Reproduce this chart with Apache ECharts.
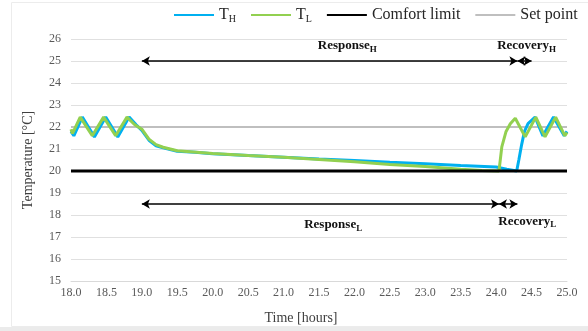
<!DOCTYPE html>
<html>
<head>
<meta charset="utf-8">
<script src="https://cdn.jsdelivr.net/npm/echarts@6/dist/echarts.min.js"></script>
<style>
  html, body { margin: 0; padding: 0; background: #fff; }
  #chart { width: 588px; height: 331px; }
</style>
</head>
<body>
<div id="chart"></div>
<script>
// T_H (blue)
const timeH = [18.00, 18.04, 18.16, 18.33, 18.49, 18.66, 18.82, 18.92, 19.00, 19.10, 19.20, 19.30, 19.50, 19.75,
  20.0, 20.5, 21.0, 21.5, 22.0, 22.5, 23.0, 23.5, 24.0, 24.15, 24.29, 24.32, 24.36, 24.40, 24.45, 24.55,
  24.66, 24.81, 24.96, 25.0]
const tempH = [21.8, 21.6, 22.45, 21.55, 22.45, 21.55, 22.45, 22.1, 21.85, 21.4, 21.15, 21.05, 20.9, 20.85,
  20.78, 20.7, 20.63, 20.55, 20.48, 20.4, 20.33, 20.25, 20.18, 20.08, 20.0, 20.5, 21.2, 21.8, 22.15, 22.45,
  21.6, 22.45, 21.6, 21.8]
// T_L (green)
const timeL = [18.00, 18.02, 18.13, 18.30, 18.46, 18.63, 18.79, 18.90, 19.00, 19.10, 19.20, 19.30, 19.50,
  20.0, 20.5, 21.0, 21.5, 22.0, 22.5, 23.0, 23.5, 23.8, 24.04, 24.08, 24.14, 24.20, 24.27, 24.41, 24.56,
  24.69, 24.84, 24.97, 25.0]
const tempL = [21.9, 21.7, 22.45, 21.6, 22.45, 21.6, 22.45, 22.1, 21.9, 21.45, 21.2, 21.08, 20.92,
  20.8, 20.7, 20.62, 20.52, 20.42, 20.3, 20.2, 20.08, 20.02, 20.0, 21.1, 21.8, 22.15, 22.4, 21.55, 22.45,
  21.55, 22.45, 21.6, 21.75]
const timeRange = [18, 25]
const comfortLimit = [20, 20]
const setPoint = [22, 22]
// event markers (hours)
const markTimes = [19.0, 24.04, 24.3, 24.5]
const markTops = [25.85, 25.1, 25.6, 25.1]

const pairs = (xs, ys) => xs.map((x, i) => [x, ys[i]])
const serif = 'Liberation Serif'

const chart = echarts.init(document.getElementById('chart'))
chart.setOption({
  animation: false,
  textStyle: { fontFamily: serif },
  graphic: [
    { type: 'rect', shape: { x: 11.5, y: 2.5, width: 600, height: 324 }, style: { fill: 'none', stroke: '#ececec', lineWidth: 1 } },
    { type: 'rect', shape: { x: 0, y: 327, width: 588, height: 4 }, style: { fill: '#ebebeb' } }
  ],
  grid: { left: 71, right: 21, top: 39, bottom: 50 },
  legend: {
    left: 168,
    top: 2,
    itemWidth: 40,
    itemHeight: 12,
    itemGap: 14,
    itemStyle: { opacity: 0 },
    data: ['T_H', 'T_L', 'Comfort limit', 'Set point'],
    formatter(name) {
      if (name === 'T_H') return '{b|T}{s|H}'
      if (name === 'T_L') return '{b|T}{s|L}'
      return '{b|' + name + '}'
    },
    textStyle: {
      rich: {
        b: { fontFamily: serif, fontSize: 16, color: '#262626', lineHeight: 19 },
        s: { fontFamily: serif, fontSize: 10, color: '#262626', lineHeight: 10, verticalAlign: 'bottom' }
      }
    }
  },
  xAxis: {
    type: 'value',
    min: 18,
    max: 25,
    interval: 0.5,
    name: 'Time [hours]',
    nameLocation: 'middle',
    nameGap: 30,
    nameTextStyle: { fontFamily: serif, fontSize: 14, color: '#404040', padding: [0, 36, 0, 0] },
    axisLine: { show: true, lineStyle: { color: '#d9d9d9' } },
    axisTick: { show: false },
    splitLine: { show: false },
    axisLabel: { color: '#595959', fontSize: 12, margin: 6, formatter: v => v.toFixed(1) }
  },
  yAxis: {
    type: 'value',
    min: 15,
    max: 26,
    interval: 1,
    name: 'Temperature [°C]',
    nameLocation: 'middle',
    nameGap: 36,
    nameTextStyle: { fontFamily: serif, fontSize: 14, color: '#404040' },
    axisLine: { show: false },
    axisTick: { show: false },
    splitLine: { lineStyle: { color: '#e0e0e0', width: 1 } },
    axisLabel: { color: '#595959', fontSize: 12, margin: 10 }
  },
  series: [
    {
      name: 'Set point',
      type: 'line',
      symbol: 'none',
      data: pairs(timeRange, setPoint),
      lineStyle: { color: '#bfbfbf', width: 2 },
      itemStyle: { color: '#bfbfbf' }
    },
    {
      name: 'Comfort limit',
      type: 'line',
      symbol: 'none',
      data: pairs(timeRange, comfortLimit),
      lineStyle: { color: '#000', width: 3 },
      itemStyle: { color: '#000' },
      z: 4
    },
    {
      name: 'T_H',
      type: 'line',
      symbol: 'none',
      data: pairs(timeH, tempH),
      lineStyle: { color: '#00b0f0', width: 3 },
      itemStyle: { color: '#00b0f0' }
    },
    {
      name: 'T_L',
      type: 'line',
      symbol: 'none',
      data: pairs(timeL, tempL),
      lineStyle: { color: '#92d050', width: 3 },
      itemStyle: { color: '#92d050' }
    },
    {
      name: 'annot',
      type: 'line',
      data: [],
      clip: false,
      z: 5,
      markLine: {
        silent: true,
        symbol: ['none', 'none'],
        label: { show: false },
        lineStyle: { color: '#7f7f7f', type: [5, 2, 1, 2], width: 1 },
        data: markTimes.map((t, i) => [{ coord: [t, markTops[i]] }, { coord: [t, 14.8] }])
      },
      markPoint: {
        silent: true,
        symbol: 'rect',
        symbolSize: 0,
        label: {
          show: true,
          position: 'inside',
          rich: {
            b: { fontFamily: serif, fontSize: 13, fontWeight: 'bold', color: '#111', lineHeight: 16 },
            s: { fontFamily: serif, fontSize: 9, fontWeight: 'bold', color: '#111', lineHeight: 9, verticalAlign: 'bottom' }
          }
        },
        data: [
          { coord: [21.9, 25.68], label: { formatter: '{b|Response}{s|H}' } },
          { coord: [24.43, 25.68], label: { formatter: '{b|Recovery}{s|H}' } },
          { coord: [21.7, 17.55], label: { formatter: '{b|Response}{s|L}' } },
          { coord: [24.44, 17.7], label: { formatter: '{b|Recovery}{s|L}' } }
        ]
      }
    },
    {
      name: 'arrows',
      type: 'line',
      data: [],
      z: 6,
      markLine: {
        silent: true,
        symbol: ['arrow', 'arrow'],
        symbolSize: [7, 8],
        label: { show: false },
        lineStyle: { color: '#000', type: 'solid', width: 1.5 },
        data: [
          [{ coord: [19.0, 25] }, { coord: [24.3, 25] }],
          [{ coord: [24.3, 25] }, { coord: [24.5, 25] }],
          [{ coord: [19.0, 18.5] }, { coord: [24.04, 18.5] }],
          [{ coord: [24.04, 18.5] }, { coord: [24.3, 18.5] }]
        ]
      }
    }
  ]
})
</script>
</body>
</html>
